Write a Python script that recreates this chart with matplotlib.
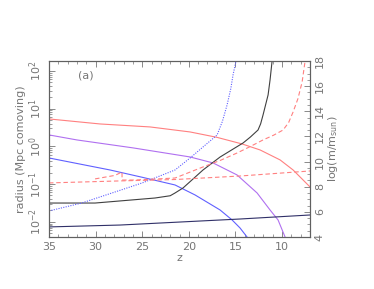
import numpy as np
import matplotlib
matplotlib.use('Agg')
import matplotlib.pyplot as plt
from matplotlib.ticker import MultipleLocator, FixedLocator, LogLocator, NullFormatter

# radius curves (left axis, log10 of Mpc comoving)
z_red = [35, 29.53, 24.16, 19.87, 17.0, 14.29, 12.36, 10.21, 8.82, 7.75, 7.0]
lr_red = [0.727, 0.594, 0.515, 0.382, 0.24, 0.064, -0.095, -0.360, -0.626, -0.891, -1.077]
z_purple = [35, 32.0, 26.0, 19.87, 17.40, 14.83, 12.68, 11.29, 10.43, 9.68]
lr_purple = [0.303, 0.170, -0.04, -0.281, -0.440, -0.758, -1.236, -1.687, -1.952, -2.403]
z_blue = [35, 28.46, 25.0, 21.48, 19.33, 16.65, 15.36, 14.51, 13.76]
lr_blue = [-0.308, -0.626, -0.82, -1.024, -1.289, -1.687, -1.952, -2.164, -2.403]

# mass curves (right axis, log m/m_sun)
z_navy = [35, 27.38, 20.94, 14.51, 7.0]
lm_navy = [4.80, 4.95, 5.19, 5.43, 5.75]
z_black = [35, 30.06, 23.63, 22.0, 21.48, 20.62, 18.48, 16.65, 14.18, 13.4, 12.58, 12.3, 12.04, 11.50, 11.29, 11.07]
lm_black = [6.70, 6.70, 7.10, 7.28, 7.50, 7.90, 9.33, 10.36, 11.48, 11.95, 12.51, 13.0, 13.71, 15.30, 16.49, 18.0]
z_bdot = [35, 31.5, 28.24, 25.0, 21.48, 19.87, 18.48, 16.97, 16.4, 15.90, 15.5, 15.26, 14.94]
lm_bdot = [6.07, 6.70, 7.50, 8.30, 9.33, 10.28, 11.16, 12.11, 13.2, 14.50, 15.8, 16.89, 18.0]
z_rdash1 = [35, 27.38, 21.48, 14.51, 7.0]
lm_rdash1 = [8.30, 8.46, 8.57, 8.85, 9.25]
z_rdash2 = [30.06, 27.92, 27.17, 27.16, 25.8, 21.48, 18.48, 16.6, 14.83, 13.4, 12.04, 10.9, 9.89, 9.3, 8.82, 8.3, 7.85, 7.53]
lm_rdash2 = [8.62, 8.90, 9.17, 8.53, 8.53, 8.69, 9.57, 10.1, 10.68, 11.2, 11.72, 12.1, 12.51, 13.1, 13.94, 15.0, 16.33, 18.0]

txt = '#767676'
plt.rcParams['font.family'] = 'DejaVu Sans'
plt.rcParams['font.size'] = 8

fig = plt.figure(figsize=(3.74, 2.89), dpi=100)
ax = fig.add_axes([0.131, 0.180, 0.698, 0.609])
ax2 = ax.twinx()

ax.plot(z_red, 10**np.array(lr_red), color='#ff8080', lw=0.8)
ax.plot(z_purple, 10**np.array(lr_purple), color='#b070f0', lw=0.8)
ax.plot(z_blue, 10**np.array(lr_blue), color='#6060ff', lw=0.8)

ax2.plot(z_navy, lm_navy, color='#303068', lw=0.8)
ax2.plot(z_black, lm_black, color='#404040', lw=0.8)
ax2.plot(z_bdot, lm_bdot, color='#6060ff', lw=0.8, ls=(0, (1, 1.2)))
ax2.plot(z_rdash1, lm_rdash1, color='#ff8080', lw=0.8, ls=(0, (4, 2.5)))
ax2.plot(z_rdash2, lm_rdash2, color='#ff8080', lw=0.8, ls=(0, (4, 2.5)))

ax.set_yscale('log')
ax.set_xlim(35, 7)
ax.set_ylim(10**-2.403, 10**2.264)
ax2.set_ylim(4, 18)

ax.xaxis.set_major_locator(MultipleLocator(5))
ax.xaxis.set_minor_locator(MultipleLocator(1))
ax.yaxis.set_major_locator(FixedLocator([1e-2, 1e-1, 1e0, 1e1, 1e2]))
ax.yaxis.set_minor_locator(LogLocator(base=10, subs=np.arange(2, 10)))
ax.yaxis.set_minor_formatter(NullFormatter())
ax.set_yticklabels(['$10^{-2}$', '$10^{-1}$', '$10^{0}$', '$10^{1}$', '$10^{2}$'])
ax2.yaxis.set_major_locator(MultipleLocator(2))
ax2.yaxis.set_minor_locator(MultipleLocator(0.5))

ax.tick_params(which='both', direction='in', top=True, colors=txt, labelsize=8)
ax.tick_params(which='major', length=4, width=0.6)
ax.tick_params(which='minor', length=2, width=0.5)
ax.tick_params(axis='y', labelrotation=90)
ax2.tick_params(which='both', direction='in', colors=txt, labelsize=8, labelrotation=90)
ax2.tick_params(which='major', length=4, width=0.6)
ax2.tick_params(which='minor', length=2, width=0.5)
for t in ax.get_yticklabels() + ax2.get_yticklabels():
    t.set_va('center')

for a in (ax, ax2):
    for s in a.spines.values():
        s.set_color('#606060')
        s.set_linewidth(0.8)

ax.set_xlabel('z', color=txt, labelpad=1)
ax.set_ylabel('radius (Mpc comoving)', color=txt, labelpad=1)
ax2.set_ylabel('log(m/m$_{\\rm sun}$)', color=txt, rotation=90, labelpad=1)
ax.text(0.11, 0.90, '(a)', transform=ax.transAxes, color=txt, fontsize=8)

fig.savefig('out.png', dpi=100)
